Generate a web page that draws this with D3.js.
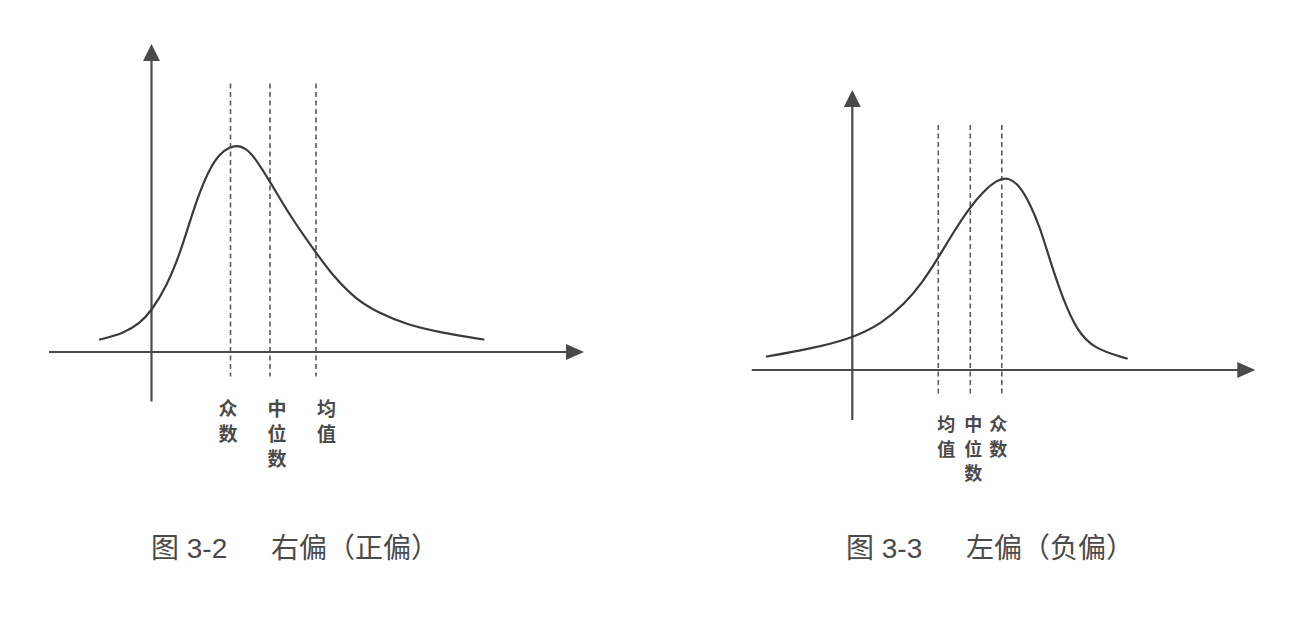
<!DOCTYPE html>
<html>
<head>
<meta charset="utf-8">
<script src="https://cdn.jsdelivr.net/npm/d3@7/dist/d3.min.js"></script>
<style>
  html, body { margin: 0; padding: 0; background: #ffffff; }
  svg { display: block; }
</style>
</head>
<body>
<svg id="chart" width="1292" height="622"></svg>
<script>
// ---------- DATA ----------
// Right-skewed (positive skew) curve, x/y in abstract units (origin at the axes crossing)
const rightSkewX = [-1.03, -0.56, -0.23, -0.01, 0.30, 0.57, 0.77, 0.97, 1.17, 1.37, 1.57, 1.72, 1.87, 2.04, 2.37, 2.77, 3.30, 3.64, 4.10, 4.57, 5.10, 5.77, 6.64];
const rightSkewY = [0.25, 0.37, 0.58, 0.81, 1.31, 1.97, 2.62, 3.22, 3.68, 3.97, 4.10, 4.13, 4.08, 3.93, 3.41, 2.72, 1.97, 1.51, 1.04, 0.77, 0.55, 0.39, 0.25];
// Left-skewed (negative skew) curve
const leftSkewX = [-1.71, -0.95, 0.00, 0.59, 1.05, 1.39, 1.71, 2.05, 2.35, 2.62, 2.89, 3.12, 3.35, 3.55, 3.75, 3.95, 4.22, 4.49, 4.82, 5.49];
const leftSkewY = [0.27, 0.40, 0.63, 0.93, 1.33, 1.73, 2.23, 2.80, 3.25, 3.57, 3.80, 3.86, 3.68, 3.33, 2.87, 2.20, 1.40, 0.80, 0.43, 0.23];

// Reference lines (mode / median / mean) positions on the x axis
const rightSkewMarkers = ["众数", "中位数", "均值"];
const rightSkewMarkerX = [1.58, 2.37, 3.29];
const leftSkewMarkers = ["均值", "中位数", "众数"];
const leftSkewMarkerX = [1.72, 2.36, 2.99];

// Captions
const captionNumbers = ["图 3-2", "图 3-3"];
const captionTitles = ["右偏（正偏）", "左偏（负偏）"];

// ---------- LAYOUT ----------
const svg = d3.select("#chart");
const UNIT = 50; // px per data unit
const panels = [
  {
    ox: 151.5, oy: 352,
    xDom: [-2.05, 8.65], yDom: [-0.99, 6.16],
    dashTop: 5.37, dashBottom: -0.49,
    xs: rightSkewX, ys: rightSkewY,
    markers: rightSkewMarkers, markerX: rightSkewMarkerX,
    labelDx: [-2.4, 7.0, 10.5], labelTop: 409, labelFont: 19, labelGap: 25,
    capNum: captionNumbers[0], capTitle: captionTitles[0], capX: 151, capX2: 271
  },
  {
    ox: 852.3, oy: 370,
    xDom: [-2.01, 8.06], yDom: [-1.0, 5.6],
    dashTop: 4.9, dashBottom: -0.53,
    xs: leftSkewX, ys: leftSkewY,
    markers: leftSkewMarkers, markerX: leftSkewMarkerX,
    labelDx: [8.0, 3.0, -3.5], labelTop: 425, labelFont: 18, labelGap: 24.5,
    capNum: captionNumbers[1], capTitle: captionTitles[1], capX: 846, capX2: 966
  }
];

const AXIS_COLOR = "#4a4a4a";
const CURVE_COLOR = "#3a3a3a";
const DASH_COLOR = "#5a5a5a";
const TEXT_COLOR = "#4a4a4a";
const CJK = "'Noto Sans CJK SC', 'Noto Sans', sans-serif";
const CAP_FONT = "'Liberation Sans', 'Noto Sans CJK SC', sans-serif";

panels.forEach(p => {
  const x = d3.scaleLinear().domain([0, 1]).range([p.ox, p.ox + UNIT]);
  const y = d3.scaleLinear().domain([0, 1]).range([p.oy, p.oy - UNIT]);
  const g = svg.append("g");

  // x axis line + arrow
  const xEnd = x(p.xDom[1]);
  g.append("line")
    .attr("x1", x(p.xDom[0])).attr("x2", xEnd - 12)
    .attr("y1", y(0)).attr("y2", y(0))
    .attr("stroke", AXIS_COLOR).attr("stroke-width", 2.2);
  g.append("path")
    .attr("d", `M${xEnd},${y(0)} L${xEnd - 18},${y(0) - 8} L${xEnd - 18},${y(0) + 8} Z`)
    .attr("fill", AXIS_COLOR);

  // y axis line + arrow
  const yEnd = y(p.yDom[1]);
  g.append("line")
    .attr("x1", x(0)).attr("x2", x(0))
    .attr("y1", y(p.yDom[0])).attr("y2", yEnd + 12)
    .attr("stroke", AXIS_COLOR).attr("stroke-width", 2.2);
  g.append("path")
    .attr("d", `M${x(0)},${yEnd} L${x(0) - 8.5},${yEnd + 17} L${x(0) + 8.5},${yEnd + 17} Z`)
    .attr("fill", AXIS_COLOR);

  // dashed reference lines
  g.selectAll("line.ref")
    .data(p.markerX)
    .join("line")
    .attr("class", "ref")
    .attr("x1", d => x(d)).attr("x2", d => x(d))
    .attr("y1", y(p.dashTop)).attr("y2", y(p.dashBottom))
    .attr("stroke", DASH_COLOR).attr("stroke-width", 1.6)
    .attr("stroke-dasharray", "5,3.5");

  // curve
  const pts = p.xs.map((d, i) => [d, p.ys[i]]);
  const line = d3.line()
    .x(d => x(d[0])).y(d => y(d[1]))
    .curve(d3.curveBasis);
  g.append("path")
    .attr("d", line(pts))
    .attr("fill", "none")
    .attr("stroke", CURVE_COLOR)
    .attr("stroke-width", 2.2)
    .attr("stroke-linecap", "round")
    .attr("stroke-linejoin", "round");

  // vertical labels under dashed lines
  p.markers.forEach((m, i) => {
    const t = g.append("text")
      .attr("x", x(p.markerX[i]) + p.labelDx[i])
      .attr("y", p.labelTop + p.labelFont * 0.36)
      .attr("text-anchor", "middle")
      .attr("font-family", CJK)
      .attr("font-weight", "bold")
      .attr("font-size", p.labelFont)
      .attr("fill", TEXT_COLOR);
    Array.from(m).forEach((ch, k) => {
      t.append("tspan")
        .attr("x", x(p.markerX[i]) + p.labelDx[i])
        .attr("dy", k === 0 ? 0 : p.labelGap)
        .text(ch);
    });
  });

  // caption
  g.append("text")
    .attr("x", p.capX).attr("y", 558)
    .attr("font-family", CAP_FONT).attr("font-size", 28)
    .attr("fill", "#4a4a4a")
    .text(p.capNum);
  g.append("text")
    .attr("x", p.capX2).attr("y", 558)
    .attr("font-family", CJK).attr("font-size", 28)
    .attr("fill", "#4a4a4a")
    .text(p.capTitle);
});
</script>
</body>
</html>
